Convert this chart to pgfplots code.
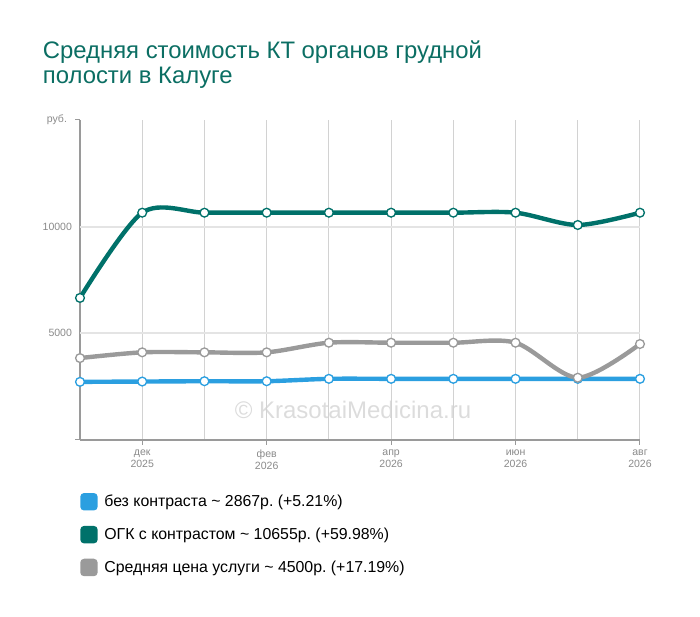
\documentclass[border=0pt]{standalone}
\usepackage{fontspec}
\setmainfont{Liberation Sans}
\frenchspacing
\usepackage{pgfplots}
\pgfplotsset{compat=1.18}
\definecolor{cblue}{HTML}{2B9FE0}
\definecolor{cteal}{HTML}{00716A}
\definecolor{cgray}{HTML}{9A9A9A}
\definecolor{ctitle}{HTML}{0B6E63}
\definecolor{ctick}{HTML}{8A8A8A}
\definecolor{caxis}{HTML}{9A9A9A}
\definecolor{cvgrid}{HTML}{D2D2D2}
\definecolor{chgrid}{HTML}{E4E4E4}
\definecolor{cwm}{HTML}{DCDCDC}
\begin{document}
\begin{tikzpicture}
\path[use as bounding box] (0pt,0pt) rectangle (525pt,462.75pt);
\node[anchor=base west, text=ctitle, font=\fontsize{17.9}{20}\selectfont, inner sep=0pt] at (32pt,418.5pt) {Средняя стоимость КТ органов грудной};
\node[anchor=base west, text=ctitle, font=\fontsize{17.9}{20}\selectfont, inner sep=0pt] at (32pt,399.75pt) {полости в Калуге};
\node[text=cwm, font=\fontsize{18}{21}\selectfont, inner sep=0pt] at (264.75pt,155.25pt) {© KrasotaiMedicina.ru};
\begin{axis}[
  at={(60pt,132.75pt)}, anchor=south west,
  scale only axis, width=420pt, height=240pt,
  xmin=0, xmax=9, ymin=0, ymax=15000,
  clip=false,
  scaled y ticks=false,
  axis lines=left,
  axis line style={-, draw=caxis, line width=0.9pt},
  /pgf/number format/assume math mode=true,
  tick style={draw=caxis, line width=0.75pt},
  tick align=outside,
  major tick length=3.75pt,
  minor tick length=0pt,
  xtick={1,3,5,7,9},
  xticklabels={{дек\\2025},{фев\\2026},{апр\\2026},{июн\\2026},{авг\\2026}},
  minor xtick={0,2,4,6,8},
  xmajorgrids, xminorgrids,
  major grid style={draw=cvgrid, line width=0.75pt},
  minor grid style={draw=cvgrid, line width=0.75pt},
  xticklabel style={align=center, font=\fontsize{7.9}{8.8}\selectfont, text=ctick},
  ytick={0,15000},
  yticklabels={,руб.},
  extra y ticks={5000,10000},
  extra y tick labels={5000,10000},
  extra y tick style={grid=major, major grid style={draw=chgrid, line width=1.4pt}, major tick length=0pt},
  yticklabel style={font=\fontsize{7.9}{9}\selectfont, text=ctick, xshift=-2.5pt},
  legend style={draw=none, fill=none, at={(0,-0.1625)}, anchor=north west, inner sep=0pt,
    row sep=10.5pt, font=\fontsize{11.9}{13}\selectfont,
    /tikz/every odd column/.append style={column sep=3pt}},
  legend cell align=left,
]
\addplot[cblue, line width=3.3pt, smooth, mark=*, mark size=3.3pt,
  mark options={fill=white, draw=cblue, line width=1pt},
  legend image code/.code={\fill[cblue, rounded corners=1.5pt] (0pt,-4.9pt) rectangle (9.75pt,4.9pt);}]
  coordinates {(0,2725) (1,2740) (2,2755) (3,2755) (4,2867) (5,2867) (6,2867) (7,2867) (8,2867) (9,2867)};
\addlegendentry{без контраста \char`~\ 2867р. (+5.21\%)}
\addplot[cteal, line width=3.3pt, smooth, mark=*, mark size=3.3pt,
  mark options={fill=white, draw=cteal, line width=1pt},
  legend image code/.code={\fill[cteal, rounded corners=1.5pt] (0pt,-4.9pt) rectangle (9.75pt,4.9pt);}]
  coordinates {(0,6660) (1,10655) (2,10655) (3,10655) (4,10655) (5,10655) (6,10655) (7,10655) (8,10078) (9,10655)};
\addlegendentry{ОГК с контрастом \char`~\ 10655р. (+59.98\%)}
\addplot[cgray, line width=3.3pt, smooth, mark=*, mark size=3.3pt,
  mark options={fill=white, draw=cgray, line width=1pt},
  legend image code/.code={\fill[cgray, rounded corners=1.5pt] (0pt,-4.9pt) rectangle (9.75pt,4.9pt);}]
  coordinates {(0,3840) (1,4109) (2,4109) (3,4109) (4,4560) (5,4560) (6,4560) (7,4560) (8,2920) (9,4500)};
\addlegendentry{Средняя цена услуги \char`~\ 4500р. (+17.19\%)}
\end{axis}
\end{tikzpicture}
\end{document}
